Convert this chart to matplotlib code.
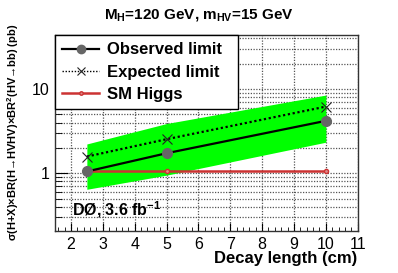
import matplotlib
matplotlib.use("Agg")
import matplotlib.pyplot as plt
from matplotlib.ticker import FixedLocator, LogLocator, NullFormatter, MultipleLocator
from matplotlib.lines import Line2D

# Data
decay_length = [2.5, 5.0, 10.0]
observed = [1.05, 1.73, 4.2]
expected = [1.58, 2.54, 6.2]
band_low = [0.645, 0.95, 2.34]
band_high = [2.23, 3.9, 8.5]
sm_higgs = [1.05, 1.05, 1.05]
x_ticks = [2, 3, 4, 5, 6, 7, 8, 9, 10, 11]
y_ticks = [1, 10]

plt.rcParams['font.family'] = ['Liberation Sans', 'DejaVu Sans']
plt.rcParams['mathtext.fontset'] = 'custom'
plt.rcParams['mathtext.rm'] = 'Liberation Sans'
plt.rcParams['mathtext.bf'] = 'Liberation Sans:bold'
plt.rcParams['mathtext.it'] = 'Liberation Sans:italic'

fig = plt.figure(figsize=(3.98, 2.73), dpi=100)
ax = fig.add_axes([55/398, 1-231/273, (357.7-55)/398, (231-35)/273])

ax.set_xlim(1.5, 11)
ax.set_ylim(0.206, 44)
ax.set_yscale('log')

# grid
gkw = dict(color='#555555', linestyle=(0, (1, 1.2)), linewidth=0.9)
for xv in x_ticks:
    ax.axvline(xv, zorder=0, **gkw)
for dec in [0.1, 1, 10]:
    for m in range(1, 10):
        v = dec * m
        if 0.206 < v < 44:
            ax.axhline(v, zorder=0, **gkw)

ax.fill_between(decay_length, band_low, band_high, color='#00ff00', lw=0, zorder=1)
ax.plot(decay_length, sm_higgs, color='#cc3333', lw=1.8, marker='o', ms=3,
        mfc='#dd8888', mec='#cc3333', zorder=2)
ax.plot(decay_length, expected, color='black', lw=1.6, linestyle=(0, (1, 1.2)), zorder=3)
ax.plot(decay_length, expected, color='none', marker='x', ms=7, mec='#222222', mew=0.8, zorder=4)
ax.plot(decay_length, observed, color='black', lw=1.6, marker='o', ms=7,
        mfc='#666666', mec='#666666', zorder=5)

ax.xaxis.set_major_locator(FixedLocator(x_ticks))
ax.xaxis.set_minor_locator(MultipleLocator(0.2))
ax.yaxis.set_major_locator(FixedLocator(y_ticks))
ax.yaxis.set_minor_locator(LogLocator(base=10, subs=range(2, 10)))
ax.yaxis.set_minor_formatter(NullFormatter())
ax.set_yticklabels(['1', '10'])
ax.tick_params(axis='both', which='both', direction='in', labelsize=11.5,
               top=False, right=False)
ax.tick_params(axis='x', which='major', length=6, pad=4)
ax.tick_params(axis='x', which='minor', length=3)
ax.tick_params(axis='y', which='major', length=9, pad=4)
ax.tick_params(axis='y', which='minor', length=5)
for s in ax.spines.values():
    s.set_color('#333333')
    s.set_linewidth(1.0)

handles = [
    Line2D([], [], color='black', lw=1.6, marker='o', ms=6, mfc='#666666', mec='#666666'),
    Line2D([], [], color='black', lw=1.0, linestyle=(0, (1, 1.2)), marker='x', ms=6,
           mec='#222222', mew=0.8),
    Line2D([], [], color='#cc3333', lw=1.8, marker='o', ms=2.5, mfc='#dd8888', mec='#cc3333'),
]
labels = ['Observed limit', 'Expected limit', 'SM Higgs']
leg = ax.legend(handles, labels, loc='upper left', bbox_to_anchor=(0, 1, 0.605, 0),
                mode='expand', borderaxespad=0, fancybox=False, framealpha=1,
                edgecolor='black', handlelength=2.2, handletextpad=0.45,
                labelspacing=0.42, borderpad=0.45,
                prop={'weight': 'bold', 'size': 12})
leg.get_frame().set_linewidth(1.0)
leg.set_zorder(10)

fig.text(0.5, 1-18.3/273, r'M$_{\mathbf{H}}$=120 GeV, m$_{\mathbf{HV}}$=15 GeV',
         ha='center', va='baseline', fontsize=11, fontweight='bold')
fig.text(357/398, 1-263/273, 'Decay length (cm)', ha='right', va='baseline',
         fontsize=12, fontweight='bold')
fig.text(13/398, 1-132/273,
         r'σ(H+X)×BR(H→HVHV)×BR$^{\mathbf{2}}$(HV→bb) (pb)',
         rotation=90, ha='center', va='center', fontsize=8, fontweight='bold')
fig.text(72/398, 1-215/273, r'DØ, 3.6 fb$^{\mathbf{-1}}$', ha='left', va='baseline',
         fontsize=11.5, fontweight='bold')

fig.savefig('out.png', dpi=100)
